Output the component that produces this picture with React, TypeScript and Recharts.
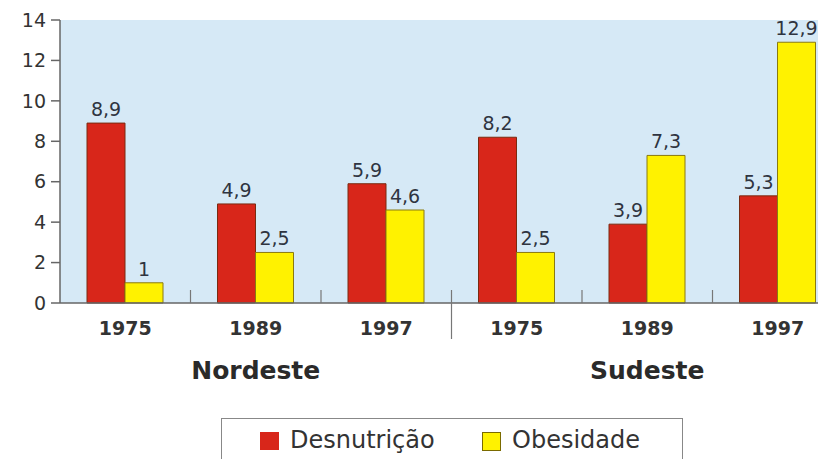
import React from 'react';
import { BarChart, Bar, XAxis, YAxis, CartesianGrid, LabelList } from 'recharts';

const years = ['1975', '1989', '1997', '1975', '1989', '1997'];
const regions = ['Nordeste', 'Nordeste', 'Nordeste', 'Sudeste', 'Sudeste', 'Sudeste'];
const desnutricao = [8.9, 4.9, 5.9, 8.2, 3.9, 5.3];
const obesidade = [1, 2.5, 4.6, 2.5, 7.3, 12.9];
const yTicks = [0, 2, 4, 6, 8, 10, 12, 14];

const chartData = years.map((year, i) => ({
  key: `${regions[i]}-${year}`,
  year,
  region: regions[i],
  desnutricao: desnutricao[i],
  obesidade: obesidade[i],
}));

const FONT = 'DejaVu Sans, Verdana, sans-serif';
const CHART_W = 860;
const CHART_H = 451;
const MARGIN = { top: 12, right: 25, bottom: 96, left: 0 };
const Y_AXIS_W = 52;
const BAND = (CHART_W - MARGIN.left - MARGIN.right - Y_AXIS_W) / years.length;

const fmt = (v: any) => String(v).replace('.', ',');

const YearTick = (props: any) => {
  const { x, y, index, payload } = props;
  const row = chartData[index];
  const left = x - BAND / 2;
  return (
    <g>
      {index > 0 && (
        <line
          x1={left}
          x2={left}
          y1={y - 13}
          y2={index === 3 ? y + 36 : y}
          stroke="#777"
          strokeWidth={1.2}
        />
      )}
      <text x={x} y={y + 32} textAnchor="middle" fontSize={19} fontWeight="bold" fill="#333" fontFamily={FONT}>
        {row ? row.year : payload.value}
      </text>
      {(index === 1 || index === 4) && (
        <text x={x} y={y + 76} textAnchor="middle" fontSize={25} fontWeight="bold" fill="#2a2a2a" fontFamily={FONT}>
          {row.region}
        </text>
      )}
    </g>
  );
};

const LegendBox = () => (
  <div
    style={{
      position: 'absolute',
      left: 213,
      top: 410,
      width: 462,
      height: 46,
      border: '1.5px solid #888',
      boxSizing: 'border-box',
      fontFamily: FONT,
      fontSize: 24,
      color: '#333',
    }}
  >
    <span style={{ position: 'absolute', left: 38, top: 13, width: 19, height: 18, background: '#d8261a' }} />
    <span style={{ position: 'absolute', left: 68, top: 7, lineHeight: '28px' }}>Desnutrição</span>
    <span style={{ position: 'absolute', left: 260, top: 13, width: 17, height: 17, background: '#fff200', border: '1px solid #7a6a00' }} />
    <span style={{ position: 'absolute', left: 290, top: 7, lineHeight: '28px' }}>Obesidade</span>
  </div>
);

export default function App() {
  return (
    <div style={{ position: 'relative', width: 812, height: CHART_H, overflow: 'hidden', background: '#fff' }}>
      <BarChart
        width={CHART_W}
        height={CHART_H}
        data={chartData}
        margin={MARGIN}
        barSize={38}
        barGap={0}
      >
        <CartesianGrid horizontal={false} vertical={false} fill="#d6e9f6" />
        <YAxis
          width={Y_AXIS_W}
          domain={[0, 14]}
          ticks={yTicks}
          interval={0}
          axisLine={{ stroke: '#666', strokeWidth: 1.5 }}
          tickLine={{ stroke: '#666', strokeWidth: 1.5 }}
          tickSize={9}
          tickMargin={5}
          tick={{ fontSize: 19, fill: '#333', fontFamily: FONT }}
        />
        <XAxis
          dataKey="key"
          interval={0}
          height={60}
          tickSize={0}
          tickMargin={0}
          tickLine={false}
          axisLine={{ stroke: '#666', strokeWidth: 1.5 }}
          tick={<YearTick />}
        />
        <Bar dataKey="desnutricao" fill="#d8261a" stroke="#7a2a10" strokeWidth={1} isAnimationActive={false}>
          <LabelList
            dataKey="desnutricao"
            position="top"
            offset={7}
            formatter={fmt}
            style={{ fontSize: 19, fill: '#2f3440', fontFamily: FONT }}
          />
        </Bar>
        <Bar dataKey="obesidade" fill="#fff200" stroke="#8a7a10" strokeWidth={1} isAnimationActive={false}>
          <LabelList
            dataKey="obesidade"
            position="top"
            offset={7}
            formatter={fmt}
            style={{ fontSize: 19, fill: '#2f3440', fontFamily: FONT }}
          />
        </Bar>
      </BarChart>
      <LegendBox />
    </div>
  );
}
